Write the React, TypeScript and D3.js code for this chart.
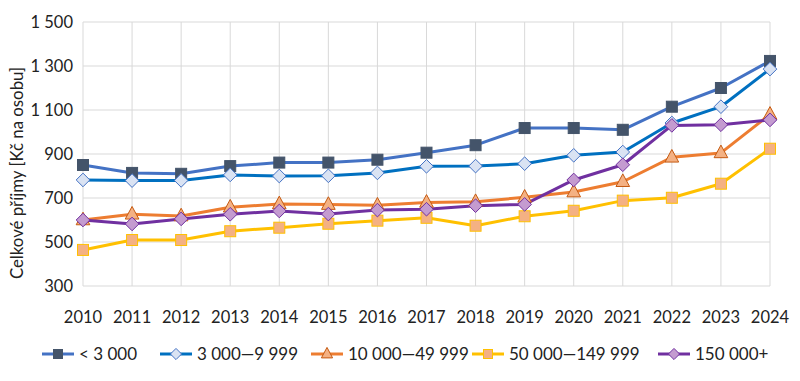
import React from "react";
import * as d3 from "d3";

const years = [2010, 2011, 2012, 2013, 2014, 2015, 2016, 2017, 2018, 2019, 2020, 2021, 2022, 2023, 2024];
const yTicks = [300, 500, 700, 900, 1100, 1300, 1500];

const s1 = [850, 814, 810, 845, 861, 861, 874, 906, 940, 1018, 1018, 1010, 1115, 1200, 1323];
const s2 = [782, 779, 780, 805, 800, 801, 814, 844, 845, 856, 894, 909, 1041, 1115, 1286];
const s3 = [600, 626, 618, 658, 673, 670, 667, 680, 683, 703, 727, 774, 885, 905, 1080];
const s4 = [464, 509, 509, 549, 565, 583, 597, 610, 574, 617, 642, 688, 701, 765, 924];
const s5 = [600, 582, 605, 626, 641, 627, 645, 649, 665, 671, 782, 851, 1030, 1033, 1055];

const seriesNames = ["< 3 000", "3 000—9 999", "10 000—49 999", "50 000—149 999", "150 000+"];

type Style = { line: string; fill: string; stroke: string; shape: string };
const styles: Style[] = [
  { line: "#4472C4", fill: "#44546A", stroke: "#44546A", shape: "square" },
  { line: "#0070C0", fill: "#DAE3F3", stroke: "#4472C4", shape: "diamond" },
  { line: "#ED7D31", fill: "#F4B183", stroke: "#C55A11", shape: "triangle" },
  { line: "#FFC000", fill: "#F4B183", stroke: "#FFC000", shape: "square" },
  { line: "#7030A0", fill: "#C49BD0", stroke: "#7030A0", shape: "diamond" },
];

const legendX = [42, 160, 311, 472, 658];

const W = 800, H = 381;
const left = 83, right = 770, top = 22, bottom = 286;
const FONT = "Lato, 'Open Sans', sans-serif";

function Marker({ x, y, st, size }: { x: number; y: number; st: Style; size: number }) {
  if (st.shape === "square") {
    const s = size;
    return <rect x={x - s / 2} y={y - s / 2} width={s} height={s} fill={st.fill} stroke={st.stroke} strokeWidth={1} />;
  }
  if (st.shape === "diamond") {
    const r = size * 0.62;
    return <path d={`M${x},${y - r}L${x + r},${y}L${x},${y + r}L${x - r},${y}Z`} fill={st.fill} stroke={st.stroke} strokeWidth={1} />;
  }
  const r = size * 0.62;
  return <path d={`M${x},${y - r - 1}L${x + r},${y + r * 0.7}L${x - r},${y + r * 0.7}Z`} fill={st.fill} stroke={st.stroke} strokeWidth={1} />;
}

export default function App() {
  const x = d3.scaleLinear().domain([2010, 2024]).range([left, right]);
  const y = d3.scaleLinear().domain([300, 1500]).range([bottom, top]);
  const all = [s1, s2, s3, s4, s5];
  const line = d3.line<number>().x((_, i) => x(years[i])).y((d) => y(d));

  return (
    <svg width={W} height={H} style={{ position: "absolute", left: 0, top: 0 }} fontFamily={FONT}>
      <rect width={W} height={H} fill="#fff" />
      {yTicks.map((t) => (
        <line key={"gy" + t} x1={left} x2={right} y1={y(t)} y2={y(t)} stroke="#D9D9D9" strokeWidth={1} />
      ))}
      {years.map((yr) => (
        <line key={"gx" + yr} x1={x(yr)} x2={x(yr)} y1={top} y2={bottom} stroke="#D9D9D9" strokeWidth={1} />
      ))}
      {yTicks.map((t) => (
        <text key={"ty" + t} x={73} y={y(t)} dy="0.35em" textAnchor="end" fontSize={16.5} fill="#222">
          {d3.format(",")(t).replace(",", " ")}
        </text>
      ))}
      {years.map((yr) => (
        <text key={"tx" + yr} x={x(yr)} y={317} dy="0.35em" textAnchor="middle" fontSize={16.5} fill="#222">
          {yr}
        </text>
      ))}
      <text transform={`translate(17,173) rotate(-90)`} textAnchor="middle" dy="0.35em" fontSize={16.8} fill="#222">
        Celkové příjmy [Kč na osobu]
      </text>
      {all.map((s, k) => (
        <path key={"l" + k} d={line(s) || ""} fill="none" stroke={styles[k].line} strokeWidth={3} strokeLinejoin="round" />
      ))}
      {all.map((s, k) =>
        s.map((v, i) => <Marker key={"m" + k + "-" + i} x={x(years[i])} y={y(v)} st={styles[k]} size={11} />)
      )}
      {seriesNames.map((n, k) => (
        <g key={"lg" + k}>
          <line x1={legendX[k]} x2={legendX[k] + 32} y1={354} y2={354} stroke={styles[k].line} strokeWidth={3} />
          <Marker x={legendX[k] + 16} y={354} st={styles[k]} size={9} />
          <text x={legendX[k] + 37} y={354} dy="0.35em" fontSize={17} fill="#222">
            {n}
          </text>
        </g>
      ))}
    </svg>
  );
}
